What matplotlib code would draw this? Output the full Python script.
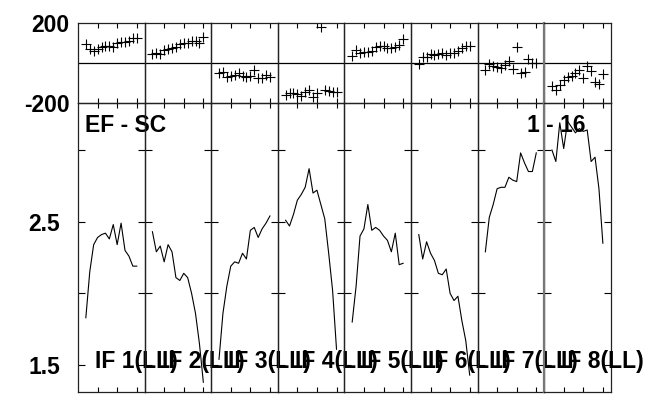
import matplotlib
matplotlib.use("Agg")
import matplotlib.pyplot as plt

plt.rcParams['font.family'] = ['Liberation Sans', 'DejaVu Sans']
plt.rcParams['font.weight'] = 'bold'

# channels plotted in every IF panel
channels = list(range(2, 16))
if_labels = ['IF 1(LL)', 'IF 2(LL)', 'IF 3(LL)', 'IF 4(LL)',
             'IF 5(LL)', 'IF 6(LL)', 'IF 7(LL)', 'IF 8(LL)']

# phase (deg), one list per IF
phase = [
    [92, 70, 60, 68, 80, 85, 84, 80, 100, 103, 103, 110, 122, 125],
    [44, 48, 44, 64, 69, 76, 81, 93, 100, 98, 109, 110, 98, 128],
    [-52, -45, -68, -66, -60, -52, -66, -68, -66, -36, -72, -76, -62, -70],
    [-160, -151, -148, -155, -165, -143, -132, -171, -151, 180, -132, -138, -143, -143],
    [34, 66, 50, 55, 56, 58, 79, 84, 82, 75, 72, 77, 88, 118],
    [-4, 30, 29, 47, 38, 45, 51, 38, 48, 50, 62, 72, 82, 84],
    [-36, -3, -15, -19, -27, -8, 10, -31, 80, -50, -44, 22, 0, -1],
    [-116, -134, -107, -85, -71, -64, -49, -35, -72, -16, -40, -95, -105, -56],
]

# amplitude, one list per IF
amplitude = [
    [1.83, 2.15, 2.34, 2.39, 2.41, 2.42, 2.38, 2.48, 2.34, 2.49, 2.30, 2.26, 2.19, 2.19],
    [2.43, 2.29, 2.33, 2.22, 2.34, 2.29, 2.11, 2.09, 2.14, 2.11, 2.00, 1.86, 1.65, 1.38],
    [1.54, 1.86, 2.05, 2.19, 2.22, 2.21, 2.28, 2.24, 2.44, 2.46, 2.39, 2.45, 2.49, 2.54],
    [2.51, 2.47, 2.55, 2.65, 2.69, 2.74, 2.87, 2.70, 2.72, 2.62, 2.52, 2.28, 2.02, 1.61],
    [1.80, 2.05, 2.40, 2.45, 2.62, 2.44, 2.46, 2.44, 2.40, 2.37, 2.29, 2.42, 2.20, 2.21],
    [2.41, 2.24, 2.36, 2.28, 2.23, 2.14, 2.13, 2.17, 2.00, 1.95, 1.98, 1.81, 1.67, 1.43],
    [2.29, 2.53, 2.62, 2.73, 2.74, 2.74, 2.81, 2.79, 2.78, 2.98, 2.91, 2.85, 2.85, 2.98],
    [3.00, 2.92, 3.19, 3.01, 3.20, 3.16, 3.12, 3.15, 3.13, 3.14, 2.92, 2.95, 2.73, 2.35],
]

W, H = 651, 398
fig = plt.figure(figsize=(W / 100, H / 100), dpi=100)

x0, x1 = 78, 610.7
pw = (x1 - x0) / 8
top_y0, top_y1 = 22.7, 103.3
bot_y1 = 392

def frac(left, top, width, height):
    return [left / W, 1 - (top + height) / H, width / W, height / H]

for i in range(8):
    left = x0 + i * pw
    axp = fig.add_axes(frac(left, top_y0, pw, top_y1 - top_y0))
    axa = fig.add_axes(frac(left, top_y1, pw, bot_y1 - top_y1))
    for ax in (axp, axa):
        ax.set_facecolor('none')
        ax.set_xlim(0, 17)
        ax.set_xticks([5, 10, 15])
        ax.tick_params(axis='x', direction='in', top=True, bottom=True,
                       length=3.5, width=0.8, labelbottom=False)
        for s in ax.spines.values():
            s.set_linewidth(0.9)
            s.set_color('#222222')

    # phase panel
    axp.plot(channels, phase[i], linestyle='none', marker='+', color='black',
             markersize=7, markeredgewidth=0.8)
    axp.axhline(0, color='black', lw=0.9)
    axp.set_ylim(-200, 200)
    if i == 0:
        axp.set_yticks([-200, 200])
        axp.set_yticklabels(['-200', '200'], fontsize=16.5, fontweight='bold')
        axp.tick_params(axis='y', length=0, pad=6)
    else:
        axp.set_yticks([])

    # amplitude panel
    axa.plot(channels, amplitude[i], color='black', lw=0.8)
    axa.set_ylim(1.312, 3.326)
    axa.set_yticks([1.5, 2.0, 2.5, 3.0])
    axa.tick_params(axis='y', direction='in', left=True, right=True,
                    length=5, width=0.8, labelleft=(i == 0), pad=13)
    if i == 0:
        axa.set_yticklabels(['1.5', '', '2.5', ''], fontsize=16.5, fontweight='bold')
    axa.text(0.255, 0.083, if_labels[i], transform=axa.transAxes,
             fontsize=16.5, fontweight='bold', ha='left', va='baseline')

    if i == 0:
        axa.text(0.105, 0.90, 'EF - SC', transform=axa.transAxes,
                 fontsize=16.5, fontweight='bold', ha='left', va='baseline')
    if i == 7:
        axa.text(0.62, 0.90, '1 - 16', transform=axa.transAxes,
                 fontsize=16.5, fontweight='bold', ha='right', va='baseline')
        for ax in (axp, axa):
            ax.spines['left'].set_color('#777777')
            ax.spines['left'].set_linewidth(1.6)

fig.savefig('out.png', dpi=100)
